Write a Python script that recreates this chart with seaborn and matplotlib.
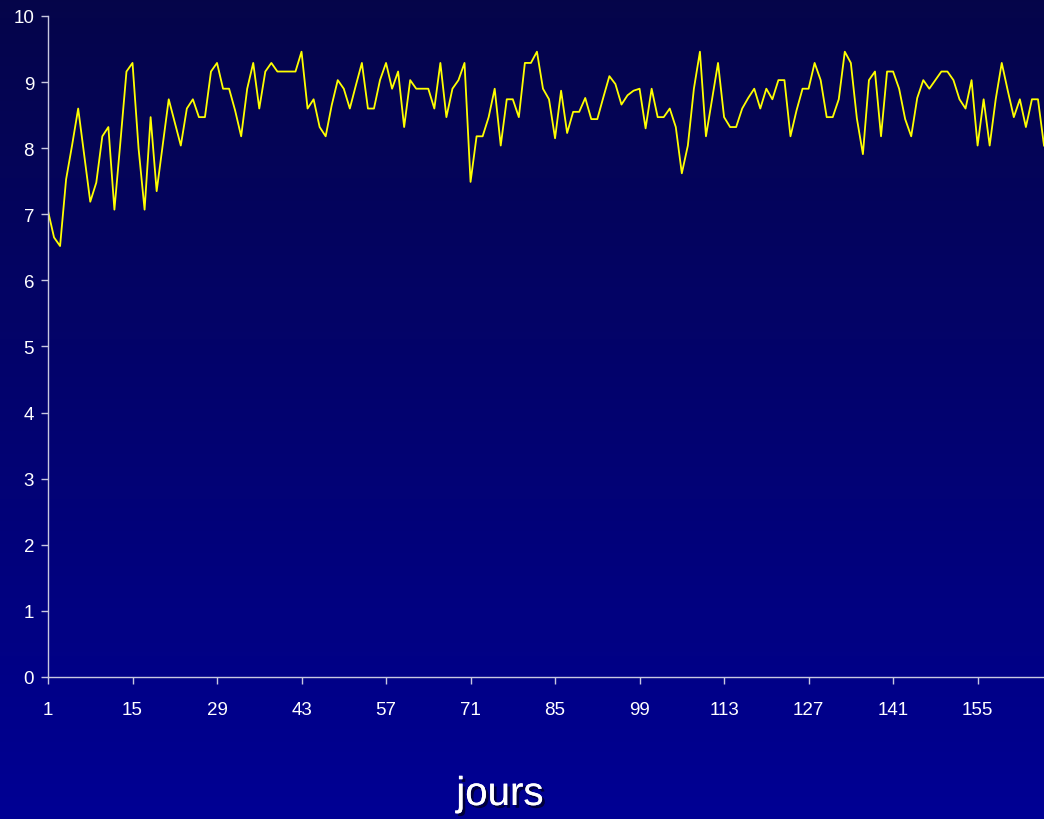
import numpy as np
import pandas as pd
import matplotlib
matplotlib.use("Agg")
import matplotlib.pyplot as plt
import matplotlib.patheffects as pe
import seaborn as sns

# Daily values, day 1 .. 166
values = [
    7.05, 6.65, 6.52, 7.53, 8.05, 8.60, 7.90, 7.19, 7.48, 8.18,
    8.32, 7.07, 8.10, 9.16, 9.29, 8.00, 7.07, 8.47, 7.35, 8.05,
    8.74, 8.39, 8.04, 8.60, 8.74, 8.47, 8.47, 9.16, 9.29, 8.90,
    8.90, 8.57, 8.18, 8.90, 9.29, 8.60, 9.16, 9.29, 9.16, 9.16,
    9.16, 9.16, 9.46, 8.60, 8.74, 8.32, 8.18, 8.65, 9.03, 8.90,
    8.60, 8.95, 9.29, 8.60, 8.60, 9.03, 9.29, 8.90, 9.16, 8.32,
    9.03, 8.90, 8.90, 8.90, 8.60, 9.29, 8.47, 8.90, 9.03, 9.29,
    7.49, 8.18, 8.18, 8.47, 8.90, 8.04, 8.74, 8.74, 8.47, 9.29,
    9.29, 9.46, 8.90, 8.74, 8.15, 8.87, 8.23, 8.55, 8.55, 8.76,
    8.44, 8.44, 8.77, 9.09, 8.97, 8.66, 8.80, 8.87, 8.90, 8.30,
    8.90, 8.47, 8.47, 8.60, 8.32, 7.62, 8.04, 8.90, 9.46, 8.18,
    8.74, 9.29, 8.47, 8.32, 8.32, 8.60, 8.76, 8.90, 8.60, 8.90,
    8.74, 9.03, 9.03, 8.18, 8.57, 8.90, 8.90, 9.29, 9.03, 8.47,
    8.47, 8.74, 9.46, 9.29, 8.45, 7.91, 9.03, 9.16, 8.18, 9.16,
    9.16, 8.90, 8.44, 8.18, 8.76, 9.03, 8.90, 9.03, 9.16, 9.16,
    9.03, 8.74, 8.60, 9.03, 8.04, 8.74, 8.04, 8.74, 9.29, 8.87,
    8.47, 8.74, 8.32, 8.74, 8.74, 8.04,
]
days = list(range(1, len(values) + 1))
x_ticks = list(range(1, 156, 14))
y_ticks = list(range(0, 11))

df = pd.DataFrame({"jour": days, "valeur": values})

W, H = 1044, 820
fig = plt.figure(figsize=(W / 100, H / 100), dpi=100)

# Vertical navy-to-blue gradient behind everything
bg = fig.add_axes([0, 0, 1, 1], zorder=0)
top = np.array([0.02, 0.02, 0.29])
bottom = np.array([0.0, 0.0, 0.58])
t = np.linspace(0, 1, 256)[:, None]
grad = top[None, :] * (1 - t) + bottom[None, :] * t
bg.imshow(grad[:, None, :].repeat(2, axis=1), aspect="auto",
          extent=[0, 1, 0, 1], origin="upper")
bg.set_axis_off()

ax = fig.add_axes([48 / W, 1 - 678 / H, (W - 48) / W, (678 - 17) / H], zorder=1)
ax.patch.set_alpha(0)

sns.lineplot(data=df, x="jour", y="valeur", ax=ax, color="#ffff00",
             linewidth=1.3, estimator=None)

ax.set_xlim(1, days[-1])
ax.set_ylim(0, 10)
ax.set_xticks(x_ticks)
ax.set_yticks(y_ticks)
ax.set_xlabel("")
ax.set_ylabel("")

axis_col = "#c8c8e0"
for side in ("top", "right"):
    ax.spines[side].set_visible(False)
for side in ("left", "bottom"):
    ax.spines[side].set_color(axis_col)
    ax.spines[side].set_linewidth(1.0)

ax.tick_params(axis="both", colors=axis_col, labelcolor="white",
               labelsize=13.5, length=5, width=1.0, direction="out")
ax.tick_params(axis="x", pad=12)
ax.tick_params(axis="y", pad=5)
for lbl in ax.get_xticklabels() + ax.get_yticklabels():
    lbl.set_fontfamily("Liberation Sans")

fig.text(500 / W, 1 - 795 / H, "jours", color="white", fontsize=29,
         fontfamily="Liberation Sans", ha="center", va="center",
         path_effects=[pe.withSimplePatchShadow(offset=(2, -2),
                                                shadow_rgbFace="black",
                                                alpha=0.6),
                       pe.Normal()])

fig.savefig("out.png", dpi=100)
